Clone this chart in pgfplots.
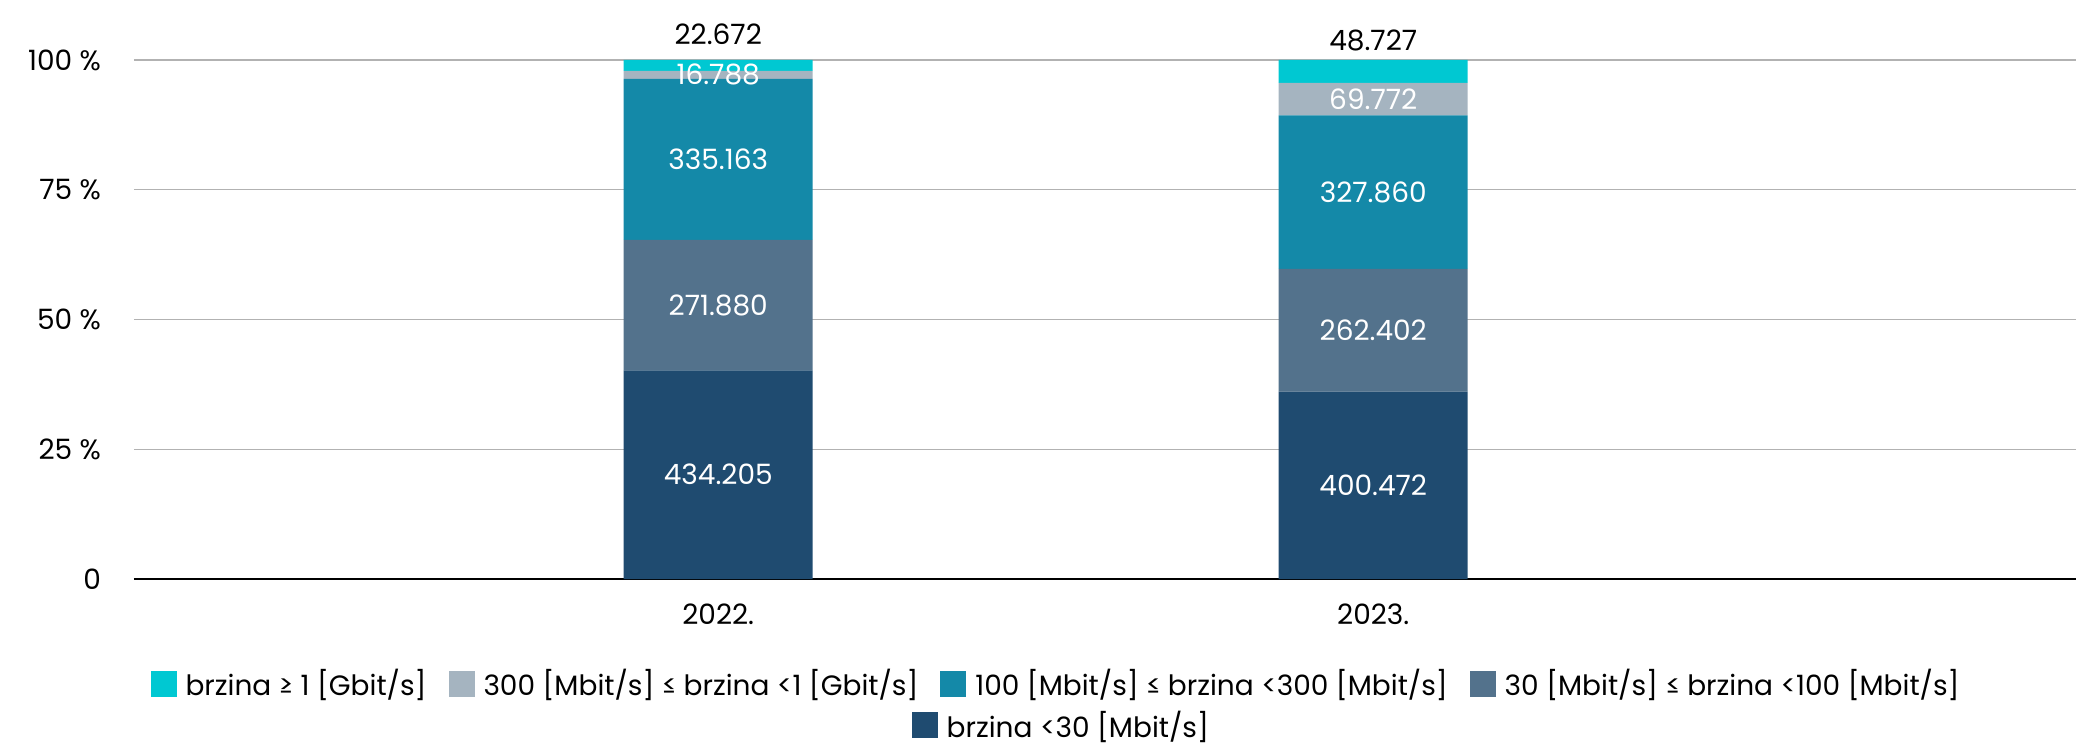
\documentclass[border=0pt]{standalone}
\usepackage{fontspec}
\setmainfont{Poppins}
\usepackage{pgfplots}
\pgfplotsset{compat=1.18}
\definecolor{cgig}{RGB}{0,200,210}
\definecolor{cthree}{RGB}{165,180,192}
\definecolor{chund}{RGB}{20,137,168}
\definecolor{cthirty}{RGB}{83,114,140}
\definecolor{clow}{RGB}{31,75,112}
\newcommand\chartfont{\fontsize{14}{16.8}\selectfont}
\pgfplotsset{sqlegend/.style={legend image code/.code={\fill[##1] (0pt,-6.5pt) rectangle (13pt,6.5pt);}}}
\begin{document}
\begin{tikzpicture}
\begin{axis}[
  scale only axis, width=971pt, height=259.5pt,
  xmin=-0.892, xmax=2.073, ymin=0, ymax=100,
  ybar stacked, bar width=94.5pt,
  axis x line*=bottom, axis y line*=left,
  x axis line style={black, line width=1pt},
  y axis line style={draw=none},
  ymajorgrids, grid style={draw=black!30, line width=0.75pt},
  ytick={0,25,50,75,100}, yticklabels={0,25 \%,50 \%,75 \%,100 \%},
  xtick={0,1}, xticklabels={2022.,2023.},
  major tick length=0pt,
  tick label style={font=\chartfont},
  /pgf/number format/assume math mode=true,
  yticklabel style={xshift=-13pt},
  xticklabel style={yshift=-9pt},
  clip=false,
  legend columns=4,
  legend style={at={(0.4753,-0.2023)}, anchor=center, draw=none, fill=none, font=\chartfont,
    /tikz/every even column/.append style={column sep=9pt},
    /tikz/every odd column/.append style={column sep=2.5pt}},
]
\addlegendimage{sqlegend, fill=cgig, draw=none}\addlegendentry{brzina ≥ 1 [Gbit/s]}
\addlegendimage{sqlegend, fill=cthree, draw=none}\addlegendentry{300 [Mbit/s] ≤ brzina <1 [Gbit/s]}
\addlegendimage{sqlegend, fill=chund, draw=none}\addlegendentry{100 [Mbit/s] ≤ brzina <300 [Mbit/s]}
\addlegendimage{sqlegend, fill=cthirty, draw=none}\addlegendentry{30 [Mbit/s] ≤ brzina <100 [Mbit/s]}
\addplot[fill=clow, draw=none] coordinates {(0,40.178) (1,36.104)};
\addplot[fill=cthirty, draw=none] coordinates {(0,25.158) (1,23.656)};
\addplot[fill=chund, draw=none] coordinates {(0,31.013) (1,29.557)};
\addplot[fill=cthree, draw=none] coordinates {(0,1.553) (1,6.290)};
\addplot[fill=cgig, draw=none] coordinates {(0,2.098) (1,4.393)};
\end{axis}
\begin{axis}[
  scale only axis, width=971pt, height=259.5pt,
  xmin=-0.892, xmax=2.073, ymin=0, ymax=100,
  hide axis, clip=false,
  legend style={at={(0.478,-0.282)}, anchor=center, draw=none, fill=none, font=\chartfont,
    /tikz/every odd column/.append style={column sep=2.5pt}},
]
\addlegendimage{sqlegend, fill=clow, draw=none}\addlegendentry{brzina <30 [Mbit/s]}
\addplot[draw=none, mark=none, nodes near coords, point meta=explicit symbolic,
  every node near coord/.append style={font=\chartfont, text=white, anchor=center}]
  table[meta=label] {
x y label
0 20.089 434.205
0 52.757 271.880
0 80.843 335.163
0 97.126 16.788
1 18.052 400.472
1 47.932 262.402
1 74.539 327.860
1 92.462 69.772
};
\addplot[draw=none, mark=none, nodes near coords, point meta=explicit symbolic,
  every node near coord/.append style={font=\chartfont, text=black, anchor=center}]
  table[meta=label] {
x y label
0 105.0 22.672
1 103.7 48.727
};
\end{axis}
\pgfresetboundingbox
\path (-67pt,-82.5pt) rectangle (971pt,289.5pt);
\end{tikzpicture}
\end{document}
